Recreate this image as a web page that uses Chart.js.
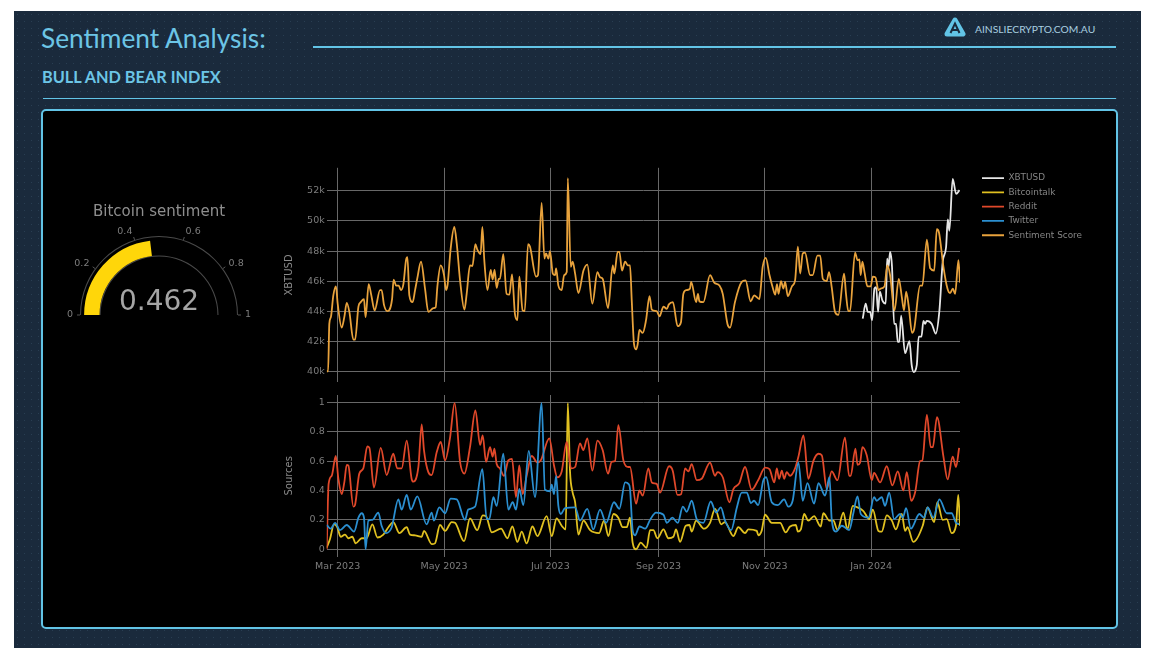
<!DOCTYPE html>
<html>
<head>
<meta charset="utf-8">
<title>Sentiment Analysis</title>
<script src="https://cdn.jsdelivr.net/npm/chart.js@4"></script>
<style>
  html, body { margin: 0; padding: 0; background: #fff; }
  body { width: 1154px; height: 664px; position: relative; overflow: hidden; font-family: Lato, sans-serif; }
  #panel { position: absolute; left: 14px; top: 11px; width: 1127px; height: 637px; background-color: #1a2a3c;
    background-image: radial-gradient(circle, rgba(120,170,200,0.16) 0.7px, transparent 1px); background-size: 7px 7px; }
  #title { position: absolute; left: 41px; top: 22px; color: #6cc5e6; font-size: 26.3px; white-space: nowrap; }
  #subtitle { position: absolute; left: 42px; top: 67px; color: #6cc5e6; font-size: 16.3px; font-weight: bold; white-space: nowrap; }
  #site { position: absolute; left: 975px; top: 23px; color: #a9cfe0; font-size: 10.3px; white-space: nowrap; }
  #logo { position: absolute; left: 944px; top: 17px; }
  .rule { position: absolute; background: #62c4e6; }
  #box { position: absolute; left: 41px; top: 109px; width: 1073px; height: 516px; background: #000; border: 2px solid #62c4e6; border-radius: 5px; }
  canvas { position: absolute; }
  #gauge { left: 50px; top: 195px; }
  #price { left: 280px; top: 166px; }
  #sources { left: 280px; top: 395px; }
</style>
</head>
<body>
<div id="panel"></div>
<div id="title">Sentiment Analysis:</div>
<div id="subtitle">BULL AND BEAR INDEX</div>
<div class="rule" style="left:313px;top:45.5px;width:803px;height:2px"></div>
<div class="rule" style="left:43px;top:98px;width:1073px;height:1px"></div>
<svg id="logo" width="22" height="22" viewBox="0 0 22 22">
  <path d="M11 3 L19 17 L3 17 Z" fill="#62c4e6" stroke="#62c4e6" stroke-width="5" stroke-linejoin="round"/>
  <path d="M6.5 16 L11 6.5 L15.5 16 M8.5 13 L13.5 13" fill="none" stroke="#1a2a3c" stroke-width="2"/>
</svg>
<div id="site">AINSLIECRYPTO.COM.AU</div>
<div id="box"></div>
<canvas id="gauge" width="218" height="135"></canvas>
<canvas id="price" width="820" height="218"></canvas>
<canvas id="sources" width="680" height="181"></canvas>

<script>
// x values are days counted from 1 Mar 2023
const monthDays = [0, 61, 122, 184, 245, 306]
const monthLabels = ['Mar 2023', 'May 2023', 'Jul 2023', 'Sep 2023', 'Nov 2023', 'Jan 2024']
const priceTicks = [40, 42, 44, 46, 48, 50, 52]
const sourceTicks = [0, 0.2, 0.4, 0.6, 0.8, 1]
const gaugeTicks = [0, 0.2, 0.4, 0.6, 0.8, 1]
const gaugeValue = 0.462

const xbtDays = [301.2,302.9,304.1,305.4,306.6,307.9,308.9,310,311,312.5,314.4,315.2,316,316.9,318,319.2,320.3,321.3,322.2,323.2,325.5,328,329.3,330.4,332.2,333.3,334.9,336,337,337.9,340.8,343.1,345.2,347.1,349,350,350.9,352.8,354.8,356.7]
const xbtValues = [43.5,44.5,43.95,43.95,43.4,45.5,45.6,43.95,45.3,44.7,44.5,47.5,46.95,47.95,46.95,43.15,43.15,41.95,41.95,43.7,41.2,42,40.4,39.95,40.4,42.3,42.3,43.35,43.15,43.35,43.15,42.5,44.05,47.3,48.25,50.1,49.35,52.8,51.8,52.05]

const scoreDays = [-6.3,-5.5,-4.8,-3.9,-2.5,-1,0,2.3,3.8,5.2,6.7,9,10,11.9,13.2,15.1,16,17.8,19.3,21.2,24.3,25.2,26.6,28.5,31.2,32.1,33.5,35,36.3,37.7,39.2,40,41.1,43,44.4,45.7,47.8,50.1,52,54.9,56.2,57.2,59.1,61,62.2,63.1,64.8,66.9,68.3,70.2,72.7,74,75.9,77.3,79,80.1,82,83,84.1,85.9,87.8,88.9,90,91.2,92.4,93.1,95,96.9,98.5,100,101.7,103.1,104.2,106.1,107.3,109.2,110.3,113.8,114.9,117,118.6,119.5,120.9,121.8,123.4,124.7,125.3,126.6,128.5,129.9,131.4,132,133.7,134.8,136.2,138.1,141,143.2,146.1,149,150.5,152,155.1,157.8,158.7,160.6,161.6,163.1,164.9,166.4,167.7,168.7,170,171.2,172.1,173.1,175,176.9,178.9,180.2,183,184.6,186.9,188.8,190,192.3,195,196.9,198.3,200,202.1,202.8,205.6,206.7,207.5,209.8,213.6,216,219,220.9,223.6,225.1,227.9,231.8,234,236.9,238.9,241.9,243.8,245.6,247.7,249.6,251,252,252.9,254.3,255.7,256.7,258.2,260.6,262.4,264,265.3,266.8,268.1,271,272.5,275.2,276.8,278.3,280.5,281.9,283.4,285.3,287.2,290.5,291.6,292.9,293.9,296.8,298.2,299.3,300,301,302.2,303.9,305.8,307,308.5,310.2,311.5,313.7,315.3,316.9,319.4,321.9,323.6,324.9,326.1,327.6,329.5,330.7,334.1,335.4,338,339.9,342.2,343.7,345,347.5,349.8,351.3,352.9,354.2,356.1,357]
const scoreValues = [40,40,43.15,43.6,45.05,45.65,44.5,42.9,43.6,44.55,43.95,42.1,42.1,44.3,44.6,44.8,43.6,45.8,45.05,44.05,45.4,45.4,44.4,44,44.8,46.1,45.7,45.7,45.4,45.8,47.4,47.6,45.05,44.6,45.4,46.2,47.3,45.5,43.95,44.2,44.25,45.65,47.05,46.4,45.4,45.8,48.15,49.6,48.5,46.05,44.1,45.15,47.05,47,48.45,48.1,47.8,49.6,47.4,45.4,46.75,46.1,46.75,45.55,46.15,46.15,47.8,45.15,45.1,46.45,43.8,43.4,46.3,44.05,44,48.45,48.3,46.3,46.4,51.2,47.5,47.85,47.5,48,46.5,46.4,46.85,45.7,45.4,46.4,46.6,52.85,46.95,47.3,46.5,45.2,46.7,47.1,44.5,46.6,46.25,46.15,44.2,47.05,46.5,47.95,47.95,46.7,47.3,47.05,47.05,44.7,41.8,41.45,41.8,42.75,42.55,43.4,45,44.1,44,43.65,44.3,44.15,44.45,44.6,43,43.25,45.15,45.4,45.5,45.95,44.6,45.15,44.65,44.6,46.4,45.9,45.7,45.15,43.15,42.9,44.6,45.95,46.05,44.65,45.05,44.8,46.95,47.55,46.4,45.55,45.1,45.8,45.15,46,45.5,45.95,45,45.65,46.05,48.3,46.5,47.85,47.9,46.4,46.4,47.7,47.7,46.15,46,46.6,45.6,43.95,43.75,46.5,45.15,44,44,47.9,47.4,47.45,46.4,47.3,46.6,45.65,45.65,46.3,46.25,45.4,45.5,45.65,47.05,46.4,44.05,46.15,44.95,44.05,45.3,44.3,42.55,42.8,45.7,45.7,48.75,46.85,46.7,49.45,49.2,46.95,45.5,45.2,45.5,45.15,47.4,45.9]

const talkDays = [-6.3,-4.4,-2.1,-0.2,1.7,4.2,6.1,8.4,10.3,13.8,16.6,19.9,22.8,26.2,29.1,31.9,35.4,39.6,41.5,44.4,48.2,49.5,54,55.8,58.7,61.6,65.4,67.3,72.5,75.9,80.1,83.2,85.1,88.4,93.7,97.4,100.2,103.1,105.6,108.4,111.7,114.6,119.9,122.8,125.6,128.5,130.8,132,133.3,134.7,136.2,138.1,141,144.8,150,152.8,155.3,158.2,161,163.5,165.8,167.7,169.2,171.2,173.8,177.2,179.2,181.1,183.4,186.9,189.7,192.6,194.1,196.4,199.7,201.8,203.1,205.6,210.2,213.6,216.5,220,222.2,227,229.8,233.7,235.6,240.4,241.3,243.2,245.2,249,253.8,257,259.5,262.8,264,265.7,267.6,270,273.3,277.1,278.6,282.1,284.4,286.7,290.1,292.4,295.5,298.2,301.6,305,307,310.2,312.1,315,317.9,320.2,323.6,325.5,326.9,330.2,335.6,338.3,342.2,344,347.1,349.4,352.2,354.7,356,357]
const talkValues = [0.01,0.07,0.17,0.15,0.085,0.1,0.075,0.085,0.04,0.075,0.075,0.17,0.08,0.1,0.15,0.185,0.11,0.15,0.1,0.095,0.085,0.125,0.035,0.04,0.165,0.125,0.185,0.18,0.055,0.21,0.13,0.23,0.225,0.115,0.14,0.075,0.155,0.05,0.12,0.04,0.155,0.09,0.225,0.09,0.21,0.16,0.135,0.995,0.525,0.39,0.32,0.1,0.195,0.13,0.11,0.195,0.09,0.24,0.215,0.15,0.15,0.215,0.045,0,0.045,0.01,0.13,0.13,0.075,0.135,0.075,0.085,0.135,0.05,0.16,0.165,0.12,0.195,0.14,0.18,0.275,0.17,0.185,0.09,0.15,0.11,0.135,0.125,0.095,0.125,0.235,0.18,0.18,0.115,0.155,0.165,0.12,0.135,0.24,0.195,0.225,0.155,0.245,0.195,0.195,0.13,0.25,0.135,0.295,0.285,0.26,0.205,0.27,0.125,0.12,0.23,0.195,0.135,0.24,0.125,0.15,0.05,0.16,0.285,0.185,0.32,0.2,0.205,0.11,0.16,0.37,0.16]

const redditDays = [-6.3,-5.2,-3.4,-1.1,0.4,2.3,3.8,5.2,6.1,9,9.9,12.4,14.7,17,18.2,20.8,24.7,28.1,31.9,34.2,36.7,39.6,42.4,43.4,46.3,48.2,49.5,52,53.9,56.8,59.1,61.6,64.4,67.1,70.2,72.7,75.9,79,81.7,83.2,85.1,87.4,88.9,89.9,91.2,93.1,95.4,97.9,100,102.3,104.2,106.1,108.4,111.3,114.6,116.5,121.4,124.1,126,128.5,131.4,133.9,136.2,139,140.9,143.2,146.1,149,152,155.1,157.2,159.1,161,163.9,166.8,167.7,171.2,173.1,175,178.2,180.2,183,184.9,190.1,192.2,194.9,197,199.3,201.2,203.1,206,208.8,213.6,216.5,217.9,220.9,224.7,227,230.4,233.7,237.5,241.2,245.2,247.7,250.5,251.9,253.2,254.8,256.1,257.6,259.5,262.4,264.3,267.2,270,273,275.8,277.7,280.6,283.4,286.7,291,293.4,294.3,297,298.2,299.7,301,303.5,306.4,307.7,311.2,315,318.2,321.3,324.5,326.5,329,331.3,334.1,335.4,338,340.2,341.4,343.8,347.5,349.9,352.8,354.7,356.5]
const redditValues = [0,0.445,0.5,0.635,0.48,0.375,0.455,0.575,0.57,0.29,0.3,0.515,0.55,0.7,0.69,0.42,0.69,0.505,0.65,0.55,0.55,0.74,0.48,0.46,0.56,0.85,0.675,0.525,0.505,0.66,0.73,0.605,0.755,0.995,0.595,0.515,0.695,0.945,0.71,0.775,0.595,0.695,0.63,0.685,0.58,0.55,0.5,0.605,0.615,0.355,0.57,0.375,0.5,0.635,0.59,0.605,0.755,0.57,0.49,0.53,0.73,0.55,0.56,0.72,0.675,0.755,0.535,0.74,0.675,0.515,0.595,0.6,0.845,0.605,0.56,0.56,0.31,0.4,0.365,0.55,0.455,0.445,0.385,0.565,0.535,0.37,0.375,0.55,0.53,0.58,0.47,0.48,0.59,0.5,0.525,0.49,0.32,0.41,0.45,0.56,0.405,0.47,0.555,0.545,0.455,0.55,0.48,0.535,0.48,0.525,0.5,0.55,0.63,0.775,0.48,0.605,0.65,0.64,0.41,0.53,0.47,0.76,0.5,0.5,0.685,0.575,0.59,0.695,0.64,0.47,0.52,0.455,0.565,0.435,0.53,0.4,0.525,0.33,0.39,0.6,0.605,0.915,0.695,0.695,0.9,0.63,0.475,0.63,0.56,0.69]

const twitterDays = [-6.3,-4,-1.5,1.3,5.2,9.4,11.9,13.8,15.1,16,17.6,20,23.3,25.2,27.7,31,34.8,36.7,39.6,41.9,45.7,51,53.9,55.2,58.3,61.6,64.8,68.3,73,74.9,78.8,83,85.5,87,89.3,91.2,95,97.9,100.4,102.3,104.2,106.5,109.6,113.2,117,118.9,121.8,122.8,124.1,125.3,126.6,128,130.4,136.2,139,143.2,146.6,150.5,154,158.5,161.6,164.9,166.8,167.7,169.2,170.6,173.1,176.4,179.2,182.6,186.9,188.8,192,195.1,198,200.2,203.1,206,209.8,214,217.1,219.8,222.2,225.7,229,231.8,234.7,237,238.9,241.2,244.2,245.8,249,252.5,256.1,258.5,261,264.3,266.8,269.5,273.3,275.8,279.6,282.1,283.4,285.8,289.2,293.4,295.9,298.2,300.1,304.5,307.7,309.2,312.1,314,316.4,319.2,322.6,324.2,326.1,328.8,333.7,336.4,338.5,341.7,345.2,349.4,352.2,354.7,356.6]
const twitterValues = [0.165,0.14,0.18,0.13,0.165,0.12,0.215,0.245,0.215,0,0.195,0.2,0.25,0.16,0.11,0.15,0.34,0.27,0.37,0.27,0.36,0.17,0.25,0.195,0.285,0.245,0.345,0.34,0.2,0.27,0.29,0.545,0.205,0.205,0.355,0.295,0.65,0.27,0.32,0.27,0.41,0.3,0.67,0.355,0.995,0.405,0.395,0.44,0.375,0.5,0.295,0.24,0.28,0.285,0.195,0.275,0.135,0.27,0.18,0.32,0.275,0.455,0.445,0.41,0.13,0.095,0.155,0.14,0.2,0.25,0.235,0.18,0.215,0.18,0.29,0.255,0.33,0.205,0.18,0.325,0.25,0.285,0.195,0.13,0.285,0.385,0.385,0.315,0.33,0.3,0.47,0.49,0.32,0.3,0.34,0.29,0.33,0.59,0.33,0.45,0.31,0.45,0.365,0.49,0.205,0.12,0.16,0.13,0.25,0.36,0.24,0.215,0.355,0.33,0.355,0.295,0.385,0.205,0.24,0.215,0.28,0.14,0.24,0.215,0.285,0.215,0.34,0.245,0.245,0.18,0.17]

const axisFont = { family: 'DejaVu Sans', size: 9.5 }
const axisColor = '#7d7d7d'
const gridColor = '#686868'

function toPoints(days, values){
  return days.map((d, i) => ({ x: d, y: values[i] }))
}

function lineSet(label, days, values, color, order){
  return {
    label: label,
    data: toPoints(days, values),
    borderColor: color,
    backgroundColor: color,
    borderWidth: 1.8,
    pointRadius: 0,
    cubicInterpolationMode: 'monotone',
    order: order
  }
}

function xAxis(showLabels){
  return {
    type: 'linear',
    min: -6.3,
    max: 357,
    border: { display: false },
    grid: { color: gridColor, drawTicks: false },
    afterBuildTicks: (scale) => { scale.ticks = monthDays.map(d => ({ value: d })) },
    ticks: {
      display: showLabels,
      autoSkip: false,
      maxRotation: 0,
      padding: 4,
      color: axisColor,
      font: axisFont,
      callback: (value, index) => monthLabels[index]
    }
  }
}

function yAxis(title, tickList, min, max, format){
  return {
    min: min,
    max: max,
    border: { display: false },
    grid: { color: gridColor, drawTicks: false },
    title: { display: true, text: title, color: '#8a8a8a', font: { family: 'DejaVu Sans', size: 10 }, padding: { top: 3, bottom: 0 } },
    afterBuildTicks: (scale) => { scale.ticks = tickList.map(v => ({ value: v })) },
    afterFit: (scale) => {
      scale.width = 46.7
      // labels never reach the ends of the axis, so no room is needed for them
      scale.paddingTop = 0
      scale.paddingBottom = 0
    },
    ticks: { color: axisColor, font: axisFont, padding: 2, callback: format }
  }
}

// plot is 140px short of the canvas edge, legend items sit 22px right of the plot
const legendGap = {
  id: 'legendGap',
  afterLayout(chart){
    chart.legend.left += 16.6
    chart.legend.right += 16.6
    chart.legend.top += 2.2
    chart.legend.bottom += 2.2
  }
}

const priceChart = new Chart(document.getElementById('price'), {
  type: 'line',
  data: {
    datasets: [
      lineSet('XBTUSD', xbtDays, xbtValues, '#e6e6e6', 5),
      lineSet('Bitcointalk', [], [], '#e0c020', 4),
      lineSet('Reddit', [], [], '#e0482a', 3),
      lineSet('Twitter', [], [], '#2b8fd0', 2),
      lineSet('Sentiment Score', scoreDays, scoreValues, '#e8a23c', 1)
    ]
  },
  options: {
    responsive: false,
    animation: false,
    layout: { padding: { right: 30 } },
    scales: {
      x: xAxis(false),
      y: yAxis('XBTUSD', priceTicks, 39.27, 53.54, (v) => v + 'k')
    },
    plugins: {
      tooltip: { enabled: false },
      legend: {
        position: 'right',
        align: 'start',
        labels: {
          boxWidth: 22,
          boxHeight: 0,
          padding: 5.4,
          color: '#858585',
          font: { family: 'DejaVu Sans', size: 8.9, lineHeight: 1.2 },
          sort: (a, b) => a.datasetIndex - b.datasetIndex
        }
      }
    }
  },
  plugins: [legendGap]
})
priceChart.options.layout.padding.right = 140 - priceChart.legend.width
priceChart.update()

new Chart(document.getElementById('sources'), {
  type: 'line',
  data: {
    datasets: [
      lineSet('Bitcointalk', talkDays, talkValues, '#e0c020', 3),
      lineSet('Reddit', redditDays, redditValues, '#e0482a', 2),
      lineSet('Twitter', twitterDays, twitterValues, '#2b8fd0', 1)
    ]
  },
  options: {
    responsive: false,
    animation: false,
    scales: {
      x: xAxis(true),
      y: yAxis('Sources', sourceTicks, -0.05, 1.05, (v) => String(v))
    },
    plugins: { tooltip: { enabled: false }, legend: { display: false } }
  }
})

// gauge scale labels and the big number
const gaugeText = {
  id: 'gaugeText',
  afterDraw(chart){
    const arc = chart.getDatasetMeta(0).data[0]
    const cx = arc.x, cy = arc.y, r = arc.outerRadius
    const c = chart.ctx
    c.save()
    c.textBaseline = 'middle'
    c.font = '9.5px "DejaVu Sans"'
    gaugeTicks.forEach((t) => {
      const a = Math.PI * (1 - t)
      c.strokeStyle = '#555'
      c.lineWidth = 1
      c.beginPath()
      c.moveTo(cx + r * Math.cos(a), cy - r * Math.sin(a))
      c.lineTo(cx + (r + 3) * Math.cos(a), cy - (r + 3) * Math.sin(a))
      c.stroke()
      c.fillStyle = axisColor
      c.textAlign = t < 0.5 ? 'right' : 'left'
      c.fillText(String(t), cx + (r + 7) * Math.cos(a), cy - (r + 9) * Math.sin(a))
    })
    c.fillStyle = '#a5a5a5'
    c.font = '28px "DejaVu Sans"'
    c.textAlign = 'center'
    c.textBaseline = 'alphabetic'
    c.fillText(String(gaugeValue), cx, cy - 5)
    c.restore()
  }
}

new Chart(document.getElementById('gauge'), {
  type: 'doughnut',
  data: {
    datasets: [
      { data: [1], backgroundColor: ['#4a4a4a'], borderWidth: 0, weight: 1 },
      { data: [1], backgroundColor: ['rgba(0,0,0,0)'], borderWidth: 0, weight: 3 },
      { data: [gaugeValue, 1 - gaugeValue], backgroundColor: ['#ffd60a', 'rgba(0,0,0,0)'], borderWidth: 0, weight: 15 },
      { data: [1], backgroundColor: ['#4a4a4a'], borderWidth: 0, weight: 1 }
    ]
  },
  options: {
    responsive: false,
    animation: false,
    rotation: -90,
    circumference: 180,
    cutout: '74%',
    layout: { padding: { left: 30, right: 30, bottom: 15 } },
    plugins: {
      tooltip: { enabled: false },
      legend: { display: false },
      title: {
        display: true,
        text: 'Bitcoin sentiment',
        color: '#8e8e8e',
        font: { family: 'DejaVu Sans', size: 15, weight: 'normal' },
        padding: { top: 8, bottom: 15 }
      }
    }
  },
  plugins: [gaugeText]
})
</script>
</body>
</html>
